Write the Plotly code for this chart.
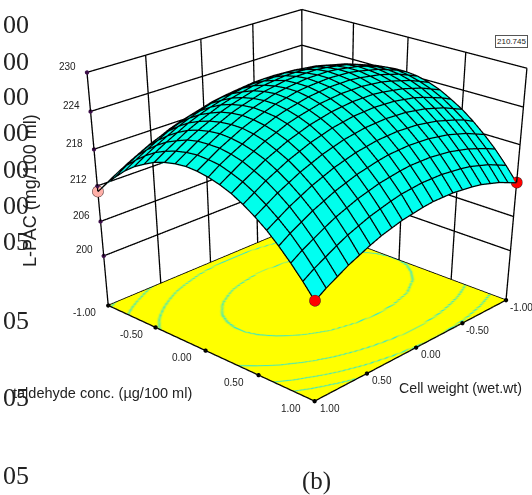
import plotly.graph_objects as go

W, H = 616, 1188
def px(x): return x / W
def py(y): return 1 - y / H

# Grid of the two coded factors and the response
a_vals = [-1.0, -0.9, -0.8, -0.7, -0.6, -0.5, -0.4, -0.3, -0.2, -0.1, 0.0, 0.1, 0.2, 0.3, 0.4, 0.5, 0.6, 0.7, 0.8, 0.9, 1.0]
b_vals = [-1.0, -0.9, -0.8, -0.7, -0.6, -0.5, -0.4, -0.3, -0.2, -0.1, 0.0, 0.1, 0.2, 0.3, 0.4, 0.5, 0.6, 0.7, 0.8, 0.9, 1.0]
Z = [
    [214.3,215.1,215.8,216.3,216.8,217.2,217.5,217.7,217.7,217.7,217.6,217.4,217.1,216.6,216.1,215.5,214.8,214.0,213.0,212.0,210.9],
    [216.3,217.1,217.8,218.4,218.8,219.2,219.5,219.7,219.7,219.7,219.6,219.4,219.1,218.6,218.1,217.5,216.8,215.9,215.0,214.0,212.9],
    [218.1,218.9,219.6,220.1,220.6,221.0,221.3,221.4,221.5,221.5,221.4,221.2,220.8,220.4,219.9,219.3,218.5,217.7,216.8,215.8,214.6],
    [219.7,220.5,221.1,221.7,222.2,222.6,222.8,223.0,223.1,223.0,222.9,222.7,222.4,221.9,221.4,220.8,220.1,219.2,218.3,217.3,216.2],
    [221.0,221.8,222.5,223.0,223.5,223.9,224.2,224.3,224.4,224.4,224.2,224.0,223.7,223.3,222.7,222.1,221.4,220.5,219.6,218.6,217.5],
    [222.1,222.9,223.6,224.1,224.6,225.0,225.3,225.4,225.5,225.5,225.3,225.1,224.8,224.3,223.8,223.2,222.5,221.6,220.7,219.7,218.5],
    [223.0,223.8,224.5,225.0,225.5,225.9,226.1,226.3,226.4,226.3,226.2,226.0,225.6,225.2,224.7,224.0,223.3,222.5,221.5,220.5,219.4],
    [223.7,224.4,225.1,225.7,226.1,226.5,226.8,226.9,227.0,227.0,226.8,226.6,226.3,225.8,225.3,224.7,223.9,223.1,222.2,221.1,220.0],
    [224.1,224.9,225.5,226.1,226.6,226.9,227.2,227.4,227.4,227.4,227.3,227.0,226.7,226.2,225.7,225.1,224.3,223.5,222.6,221.5,220.4],
    [224.3,225.1,225.7,226.3,226.8,227.1,227.4,227.6,227.6,227.6,227.4,227.2,226.9,226.4,225.9,225.3,224.5,223.7,222.7,221.7,220.6],
    [224.3,225.1,225.7,226.3,226.7,227.1,227.4,227.5,227.6,227.5,227.4,227.2,226.8,226.4,225.8,225.2,224.5,223.6,222.7,221.6,220.5],
    [224.1,224.8,225.5,226.0,226.5,226.8,227.1,227.3,227.3,227.3,227.1,226.9,226.5,226.1,225.6,224.9,224.2,223.3,222.4,221.4,220.2],
    [223.6,224.3,225.0,225.5,226.0,226.4,226.6,226.8,226.8,226.8,226.6,226.4,226.0,225.6,225.1,224.4,223.7,222.8,221.9,220.8,219.7],
    [222.9,223.6,224.3,224.8,225.3,225.6,225.9,226.1,226.1,226.1,225.9,225.7,225.3,224.9,224.3,223.7,222.9,222.1,221.1,220.1,219.0],
    [221.9,222.7,223.3,223.9,224.4,224.7,225.0,225.1,225.2,225.1,225.0,224.7,224.4,223.9,223.4,222.7,222.0,221.1,220.2,219.1,218.0],
    [220.8,221.5,222.2,222.7,223.2,223.5,223.8,223.9,224.0,223.9,223.8,223.5,223.2,222.7,222.2,221.5,220.8,219.9,219.0,217.9,216.8],
    [219.4,220.2,220.8,221.3,221.8,222.1,222.4,222.5,222.6,222.5,222.4,222.1,221.8,221.3,220.8,220.1,219.4,218.5,217.6,216.5,215.4],
    [217.8,218.5,219.2,219.7,220.2,220.5,220.8,220.9,221.0,220.9,220.8,220.5,220.1,219.7,219.1,218.5,217.7,216.9,215.9,214.9,213.7],
    [216.0,216.7,217.3,217.9,218.3,218.7,218.9,219.1,219.1,219.1,218.9,218.6,218.3,217.8,217.3,216.6,215.9,215.0,214.0,213.0,211.8],
    [213.9,214.6,215.3,215.8,216.3,216.6,216.8,217.0,217.0,217.0,216.8,216.6,216.2,215.7,215.2,214.5,213.8,212.9,211.9,210.9,209.7],
    [211.6,212.3,213.0,213.5,214.0,214.3,214.5,214.7,214.7,214.7,214.5,214.2,213.9,213.4,212.9,212.2,211.4,210.6,209.6,208.6,207.4],
]

floor_z = 191
top_z = 230
z_ticks = [200, 206, 212, 218, 224, 230]
xy_ticks = [-1, -0.5, 0, 0.5, 1]
tick_text = ["-1.00", "-0.50", "0.00", "0.50", "1.00"]
bg_y = [24, 61, 97, 133, 170, 205, 241, 320, 398, 475]
bg_text = ["00", "00", "00", "00", "00", "00", "05", "05", "05", "05"]
corner_ia = [20, 0, 20]
corner_ib = [0, 20, 20]
corner_c = ["#FFB0A8", "#FF0000", "#FF0000"]
levels = [211.5, 214.8, 218.9, 224.3]
level_band = [0.22, 0.2, 0.14, 0.08]

cmin, cmax = 209.0, 226.0
floor_scale = [[0, "#FFFF00"]]
for lv, band in zip(levels, level_band):
    f = (lv - cmin) / (cmax - cmin)
    df = band / (cmax - cmin)
    floor_scale += [[f - df, "#FFFF00"], [f, "#00E0FF"], [f + df, "#FFFF00"]]
floor_scale += [[1, "#FFFF00"]]

flat = dict(ambient=1, diffuse=0, specular=0, fresnel=0)
fig = go.Figure()
fig.add_surface(x=a_vals, y=b_vals, z=[[floor_z + 0.02] * 21 for _ in b_vals], surfacecolor=Z, cmin=cmin, cmax=cmax,
                colorscale=floor_scale, showscale=False, hoverinfo="skip", lighting=flat)
fig.add_surface(x=a_vals, y=b_vals, z=Z, cmin=200, cmax=228,
                colorscale=[[0, "#00FFFF"], [1, "#00FFE0"]], showscale=False, hoverinfo="skip",
                lighting=flat)

# Mesh of the response surface
mx, my, mz = [], [], []
lift = 0.12
for j, b in enumerate(b_vals):
    mx += a_vals + [None]
    my += [b] * 21 + [None]
    mz += [v + lift for v in Z[j]] + [None]
for i, a in enumerate(a_vals):
    mx += [a] * 21 + [None]
    my += b_vals + [None]
    mz += [row[i] + lift for row in Z] + [None]
fig.add_scatter3d(x=mx, y=my, z=mz, mode="lines", line=dict(color="#000000", width=2.5), hoverinfo="skip")

lx, ly, lz = [], [], []
def seg(p, q):
    lx.extend([p[0], q[0], None]); ly.extend([p[1], q[1], None]); lz.extend([p[2], q[2], None])
for t in xy_ticks:
    seg((-1, t, floor_z), (-1, t, top_z))
    seg((t, -1, floor_z), (t, -1, top_z))
for z in z_ticks:
    seg((-1, -1, z), (-1, 1, z))
    seg((-1, -1, z), (1, -1, z))
for p, q in [((1, -1), (-1, -1)), ((-1, -1), (-1, 1)), ((1, -1), (1, 1)), ((1, 1), (-1, 1))]:
    seg((p[0], p[1], floor_z + 0.04), (q[0], q[1], floor_z + 0.04))
fig.add_scatter3d(x=lx, y=ly, z=lz, mode="lines", line=dict(color="#000000", width=2.6), hoverinfo="skip")

fig.add_scatter3d(x=[1] * 6, y=[-1] * 6, z=z_ticks, mode="markers", hoverinfo="skip",
                  marker=dict(size=2.5, color="#3D0F4A"))
fig.add_scatter3d(x=[1] * 5 + xy_ticks, y=xy_ticks + [1] * 5, z=[floor_z + 0.04] * 10, mode="markers",
                  hoverinfo="skip", marker=dict(size=2.5, color="black"))
fig.add_scatter3d(x=[a_vals[i] for i in corner_ia], y=[b_vals[j] for j in corner_ib],
                  z=[Z[j][i] + 0.2 for i, j in zip(corner_ia, corner_ib)], mode="markers", hoverinfo="skip",
                  marker=dict(size=6.5, color=corner_c, line=dict(color="#402020", width=1)))

tick_font = dict(family="Liberation Sans", size=10, color="#222222")
ann3 = []
for z in z_ticks:
    ann3.append(dict(x=1, y=-1, z=z, text=str(z), showarrow=False, xshift=-19, yshift=6, font=tick_font))
for t, s in zip(xy_ticks, tick_text):
    ann3.append(dict(x=1, y=t, z=floor_z, text=s, showarrow=False, xshift=-24, yshift=-7, font=tick_font))
    ann3.append(dict(x=t, y=1, z=floor_z, text=s, showarrow=False, xshift=15, yshift=-7, font=tick_font))

axis = dict(showgrid=False, zeroline=False, showline=False, showticklabels=False, ticks="",
            showspikes=False, showbackground=False, title="", visible=True)

ann = []
for y, s in zip(bg_y, bg_text):
    ann.append(dict(x=px(1), y=py(y), text=s, xanchor="left", yanchor="middle", xref="paper", yref="paper",
                    showarrow=False, font=dict(family="Liberation Serif", size=26, color="#222222")))
ann.append(dict(x=px(30), y=py(191), text="L-PAC (mg/100 ml)", textangle=-90, xref="paper", yref="paper",
                showarrow=False, xanchor="center", yanchor="middle",
                font=dict(family="Liberation Sans", size=18, color="#222222")))
ann.append(dict(x=px(102), y=py(393), text="taldehyde conc. (µg/100 ml)", xref="paper", yref="paper",
                showarrow=False, xanchor="center", yanchor="middle",
                font=dict(family="Liberation Sans", size=14.5, color="#222222")))
ann.append(dict(x=px(460), y=py(388), text="Cell weight (wet.wt)", xref="paper", yref="paper",
                showarrow=False, xanchor="center", yanchor="middle",
                font=dict(family="Liberation Sans", size=14.2, color="#222222")))
ann.append(dict(x=px(316), y=py(481), text="(b)", xref="paper", yref="paper",
                showarrow=False, xanchor="center", yanchor="middle",
                font=dict(family="Liberation Serif", size=25, color="#222222")))
ann.append(dict(x=px(511), y=py(41.5), text="210.745", xref="paper", yref="paper",
                showarrow=False, xanchor="center", yanchor="middle", bgcolor="white",
                bordercolor="#555555", borderwidth=1, borderpad=1,
                font=dict(family="Liberation Sans", size=8, color="#222222")))

fig.update_layout(
    width=W, height=H, margin=dict(l=0, r=0, t=0, b=0, pad=0), showlegend=False,
    paper_bgcolor="white", annotations=ann,
    scene=dict(domain=dict(x=[0, 1], y=[0, 1]),
               xaxis=dict(range=[-1.005, 1.005], **axis), yaxis=dict(range=[-1.005, 1.005], **axis),
               zaxis=dict(range=[floor_z, top_z + 0.1], **axis),
               aspectmode="manual", aspectratio=dict(x=1, y=1, z=0.81),
               camera=dict(eye=dict(x=3.40, y=3.20, z=1.825), center=dict(x=0.491, y=0.463, z=-1.185),
                           up=dict(x=0, y=0, z=1)),
               annotations=ann3))
fig.write_html("out.html", config=dict(displayModeBar=False),
               post_script="document.body.style.margin='0';document.documentElement.style.overflow='hidden';document.body.style.overflow='hidden';")
